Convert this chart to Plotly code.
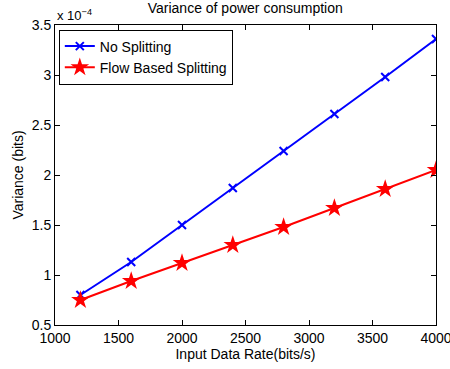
import plotly.graph_objects as go

rates = [1200, 1600, 2000, 2400, 2800, 3200, 3600, 4000]
no_split = [0.80, 1.13, 1.50, 1.87, 2.24, 2.61, 2.98, 3.36]   # x 1e-4
flow_split = [0.75, 0.94, 1.12, 1.30, 1.48, 1.67, 1.86, 2.05]  # x 1e-4
x_ticks = [1000, 1500, 2000, 2500, 3000, 3500, 4000]
y_ticks = [0.5, 1, 1.5, 2, 2.5, 3, 3.5]
y_tick_labels = ["0.5", "1", "1.5", "2", "2.5", "3", "3.5"]

FONT = "Liberation Sans, Arial, sans-serif"
FS = 14

fig = go.Figure()
fig.add_trace(go.Scatter(
    x=rates, y=no_split, name="No Splitting", mode="lines+markers",
    line=dict(color="#0000ff", width=2),
    marker=dict(symbol="x-thin", size=8, line=dict(color="#0000ff", width=2), color="#0000ff"),
))
fig.add_trace(go.Scatter(
    x=rates, y=flow_split, name="Flow Based Splitting", mode="lines+markers",
    line=dict(color="#ff0000", width=2),
    marker=dict(symbol="star", size=14, color="#ff0000", line=dict(width=0)),
))

axis_common = dict(
    showline=True, linecolor="black", linewidth=1, mirror="ticks",
    ticks="inside", ticklen=5, tickcolor="black", showgrid=False, zeroline=False,
    tickfont=dict(family=FONT, size=FS, color="black"),
    ticklabeloverflow="allow", automargin=False,
)

fig.update_layout(
    width=450, height=369,
    margin=dict(l=55, r=14, t=25, b=44),
    paper_bgcolor="white", plot_bgcolor="white",
    font=dict(family=FONT, size=FS, color="black"),
    title=dict(text="Variance of power consumption", x=0.545, xanchor="center",
               y=0.99, yanchor="top", font=dict(family=FONT, size=FS, color="black")),
    xaxis=dict(range=[1000, 4000], tickvals=x_ticks,
               title=dict(text="Input Data Rate(bits/s)", standoff=2,
                          font=dict(family=FONT, size=FS)),
               **axis_common),
    yaxis=dict(range=[0.5, 3.5], tickvals=y_ticks, ticktext=y_tick_labels,
               title=dict(text="Variance (bits)", standoff=4,
                          font=dict(family=FONT, size=FS)),
               **axis_common),
    legend=dict(x=0.01, y=0.985, xanchor="left", yanchor="top",
                bordercolor="black", borderwidth=1, bgcolor="white",
                font=dict(family=FONT, size=FS), tracegroupgap=0,
                itemwidth=30),
    showlegend=True,
)

fig.add_annotation(text="x 10<sup>−4</sup>", xref="paper", yref="paper",
                   x=0.0, y=1.0, xanchor="left", yanchor="bottom", showarrow=False,
                   font=dict(family=FONT, size=13, color="black"))

fig.write_html("out.html")
